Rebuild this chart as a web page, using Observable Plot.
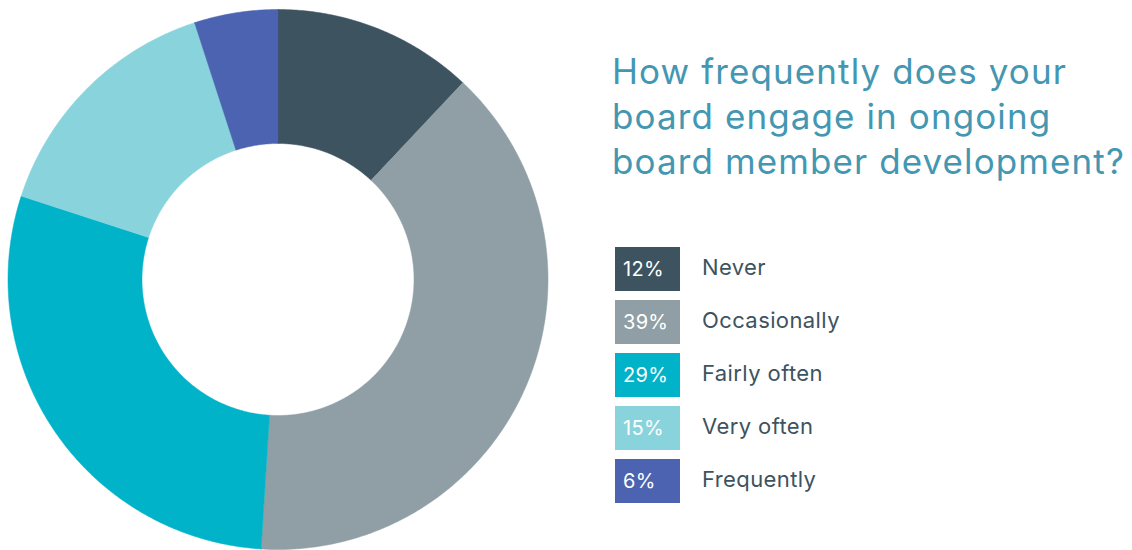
<!DOCTYPE html>
<html><head><meta charset="utf-8">
<script src="https://cdn.jsdelivr.net/npm/d3@7"></script>
<script src="https://cdn.jsdelivr.net/npm/@observablehq/plot@0.6"></script>
<style>
html,body{margin:0;padding:0;background:#fff;width:1132px;height:550px;overflow:hidden;font-family:Inter,"Noto Sans",sans-serif}
#chart{position:absolute;left:0;top:0}
#title{position:absolute;left:612px;top:49px;font-size:35px;line-height:45px;color:#4497b2;font-weight:400;white-space:nowrap;letter-spacing:1.1px}
#legend{position:absolute;left:615px;top:247px}
.row{position:relative;height:44px;margin-bottom:9px}
.sw{position:absolute;left:0;top:0;width:65px;height:44px;color:#fff;font-size:20px;line-height:44px;box-sizing:border-box;padding-left:8px;letter-spacing:0.3px}
.lb{position:absolute;left:87px;top:-2px;line-height:44px;font-size:22px;color:#3d5360;white-space:nowrap;letter-spacing:0.4px}
</style></head>
<body>
<div id="chart"></div>
<div id="title">How frequently does your<br>board engage in ongoing<br>board member development?</div>
<div id="legend"></div>
<script>
const categories = ["Never", "Occasionally", "Fairly often", "Very often", "Frequently"];
// slice shares as drawn in the picture (angles measured)
const sliceShares = [12, 39, 29, 15, 5];
// percentages printed in the legend
const labelPercents = ["12%", "39%", "29%", "15%", "6%"];
const colors = ["#3d5360", "#8f9fa5", "#00b3c9", "#89d4dc", "#4b63b0"];

const slices = d3.pie().sort(null).value(d => d.value)(categories.map((c, i) => ({category: c, value: sliceShares[i]})));
const inner = 136 / 270;
const pts = [];
for (const s of slices) {
  const n = Math.max(8, Math.ceil((s.endAngle - s.startAngle) * 120));
  const ring = [];
  for (let k = 0; k <= n; k++) {
    const a = s.startAngle + (s.endAngle - s.startAngle) * k / n;
    ring.push({x: Math.sin(a), y: Math.cos(a)});
  }
  for (let k = n; k >= 0; k--) {
    const a = s.startAngle + (s.endAngle - s.startAngle) * k / n;
    ring.push({x: inner * Math.sin(a), y: inner * Math.cos(a)});
  }
  ring.push(ring[0]);
  for (const p of ring) pts.push({...p, category: s.data.category});
}

const chart = Plot.plot({
  width: 560, height: 550,
  margin: 0,
  x: {domain: [-1, 1], range: [7.5, 547.5], axis: null},
  y: {domain: [-1, 1], range: [549, 9], axis: null},
  color: {domain: categories, range: colors},
  marks: [
    Plot.line(pts, {x: "x", y: "y", z: "category", fill: "category", stroke: "category", strokeWidth: 0.5, curve: "linear"})
  ]
});
document.getElementById("chart").appendChild(chart);

const legend = document.getElementById("legend");
categories.forEach((c, i) => {
  const row = document.createElement("div");
  row.className = "row";
  row.innerHTML = `<div class="sw" style="background:${colors[i]}">${labelPercents[i]}</div><div class="lb">${c}</div>`;
  legend.appendChild(row);
});
</script>
</body></html>
